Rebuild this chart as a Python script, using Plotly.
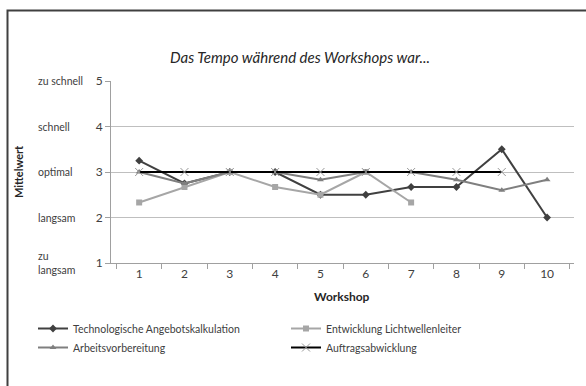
import plotly.graph_objects as go

workshops = ["1", "2", "3", "4", "5", "6", "7", "8", "9", "10"]
tech = [3.25, 2.75, 3.0, 3.0, 2.5, 2.5, 2.67, 2.67, 3.5, 2.0]
licht = [2.33, 2.67, 3.0, 2.67, 2.5, 3.0, 2.33]
arbeit = [3.0, 2.75, 3.0, 3.0, 2.83, 3.0, 3.0, 2.83, 2.6, 2.83]
auftrag = [3.0, 3.0, 3.0, 3.0, 3.0, 3.0, 3.0, 3.0, 3.0]
ytick_vals = [1, 2, 3, 4, 5]
ytick_words = ["zu<br>langsam", "langsam", "optimal", "schnell", "zu schnell"]

FONT = "Lato, 'Open Sans', sans-serif"
W, H = 586, 386
L, R, T, B = 111, 12, 81, 123
pw, ph = W - L - R, H - T - B

def px(x):
    return (x - L) / pw

def py(y):
    return (H - B - y) / ph

fig = go.Figure()
fig.add_trace(go.Scatter(x=workshops, y=tech, name="Technologische Angebotskalkulation",
                         mode="lines+markers", line=dict(color="#404040", width=2),
                         marker=dict(symbol="diamond", size=6, color="#404040")))
fig.add_trace(go.Scatter(x=workshops[:len(licht)], y=licht, name="Entwicklung Lichtwellenleiter",
                         mode="lines+markers", line=dict(color="#a6a6a6", width=2),
                         marker=dict(symbol="square", size=6, color="#a6a6a6")))
fig.add_trace(go.Scatter(x=workshops, y=arbeit, name="Arbeitsvorbereitung",
                         mode="lines+markers", line=dict(color="#7f7f7f", width=2),
                         marker=dict(symbol="triangle-up", size=6, color="#7f7f7f")))
fig.add_trace(go.Scatter(x=workshops[:len(auftrag)], y=auftrag, name="Auftragsabwicklung",
                         mode="lines+markers", line=dict(color="#000000", width=2),
                         marker=dict(symbol="x-thin", size=8, line=dict(color="#999999", width=1))))

fig.update_layout(
    width=W, height=H,
    margin=dict(l=L, r=R, t=T, b=B, autoexpand=False),
    paper_bgcolor="white", plot_bgcolor="white",
    font=dict(family=FONT, size=11, color="#404040"),
    showlegend=True,
    legend=dict(orientation="h", x=px(33), y=py(314), xanchor="left", yanchor="top",
                entrywidth=208, entrywidthmode="pixels", tracegroupgap=0,
                font=dict(family=FONT, size=10.5, color="#404040"),
                itemwidth=30, bgcolor="rgba(0,0,0,0)"),
    xaxis=dict(type="category", tickson="boundaries", ticks="outside", ticklen=5,
               tickcolor="#a0a0a0", showline=True, linecolor="#a0a0a0", linewidth=1,
               showgrid=False, tickfont=dict(size=12, color="#404040"), fixedrange=True),
    yaxis=dict(range=[1, 5], tickvals=ytick_vals, ticktext=[str(v) for v in ytick_vals],
               ticks="outside", ticklen=5, tickcolor="#a0a0a0", showline=True,
               linecolor="#a0a0a0", linewidth=1, showgrid=True, gridcolor="#bfbfbf",
               gridwidth=1, zeroline=False, tickfont=dict(size=12, color="#404040")),
)

for v, w in zip(ytick_vals, ytick_words):
    fig.add_annotation(x=px(36), y=v, xref="paper", yref="y", text=w, showarrow=False,
                       xanchor="left", yanchor="middle", align="left",
                       font=dict(size=10.5, color="#404040"))

fig.add_annotation(x=px(300), y=py(57), xref="paper", yref="paper",
                   text="<i>Das Tempo während des Workshops war...</i>", showarrow=False,
                   xanchor="center", yanchor="middle", font=dict(size=15, color="#262626"))
fig.add_annotation(x=px(342), y=py(296), xref="paper", yref="paper",
                   text="<b>Workshop</b>", showarrow=False, xanchor="center", yanchor="middle",
                   font=dict(size=12, color="#262626"))
fig.add_annotation(x=px(18), y=0.5, xref="paper", yref="paper",
                   text="<b>Mittelwert</b>", showarrow=False, textangle=-90,
                   xanchor="center", yanchor="middle", font=dict(size=11, color="#262626"))

fig.add_shape(type="rect", xref="paper", yref="paper",
              x0=px(7.5), x1=px(700), y0=py(500), y1=py(10.5),
              line=dict(color="#404040", width=2), fillcolor="rgba(0,0,0,0)", layer="below")

fig.write_html("out.html", config={"displayModeBar": False},
               post_script="document.body.style.margin='0';document.body.style.overflow='hidden';")
